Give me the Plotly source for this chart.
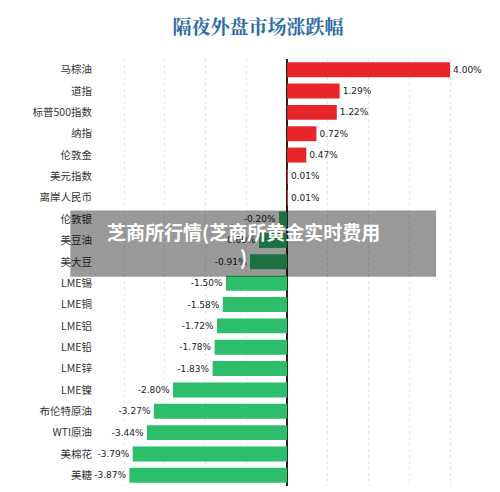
import plotly.graph_objects as go

names = ["马棕油", "道指", "标普500指数", "纳指", "伦敦金", "美元指数", "离岸人民币", "伦敦银",
         "美豆油", "美大豆", "LME锡", "LME铜", "LME铝", "LME铅", "LME锌", "LME镍",
         "布伦特原油", "WTI原油", "美棉花", "美糖"]
values = [4.00, 1.29, 1.22, 0.72, 0.47, 0.01, 0.01, -0.20, -0.69, -0.91, -1.50, -1.58,
          -1.72, -1.78, -1.83, -2.80, -3.27, -3.44, -3.79, -3.87]

colors = ["#e8262a" if v > 0 else "#2dbe6c" for v in values]
labels = ["%.2f%%" % v for v in values]

fig = go.Figure(go.Bar(
    y=names, x=values, orientation="h",
    marker=dict(color=colors, line=dict(width=0)),
    text=labels, textposition="outside", cliponaxis=False,
    textfont=dict(size=9, color="#222", family="Arial Black, DejaVu Sans"),
))

fig.update_layout(
    width=500, height=492,
    margin=dict(l=97, r=18, t=51, b=14),
    plot_bgcolor="white", paper_bgcolor="white",
    bargap=0.3, showlegend=False,
    font=dict(family="Noto Sans CJK SC", size=10, color="#333"),
    title=dict(text="<b>隔夜外盘市场涨跌幅</b>", x=0.5, y=0.975, xanchor="center",
               font=dict(size=19, color="#2b6aa6", family="Noto Serif CJK SC, Noto Sans CJK SC")),
)
fig.update_yaxes(autorange="reversed", showgrid=False, ticks="", tickfont=dict(size=10.5),
                 ticklabelstandoff=12)
fig.update_xaxes(range=[-4.47, 4.98], dtick=1, showticklabels=False, showgrid=True,
                 gridcolor="#e6e6e6", griddash="dot", zeroline=True, zerolinecolor="#222",
                 zerolinewidth=1.5)

# overlay caption box
fig.add_shape(type="rect", xref="paper", yref="paper", x0=-0.09, x1=0.86, y0=0.49, y1=0.645,
              fillcolor="rgba(0,0,0,0.4)", line=dict(width=0), layer="above")
fig.add_annotation(xref="paper", yref="paper", x=0.36, y=0.567, showarrow=False,
                   text="<b>芝商所行情(芝商所黄金实时费用<br>)</b>",
                   font=dict(size=19, color="white", family="Noto Sans CJK SC"), align="center")

fig.write_html("out.html")
